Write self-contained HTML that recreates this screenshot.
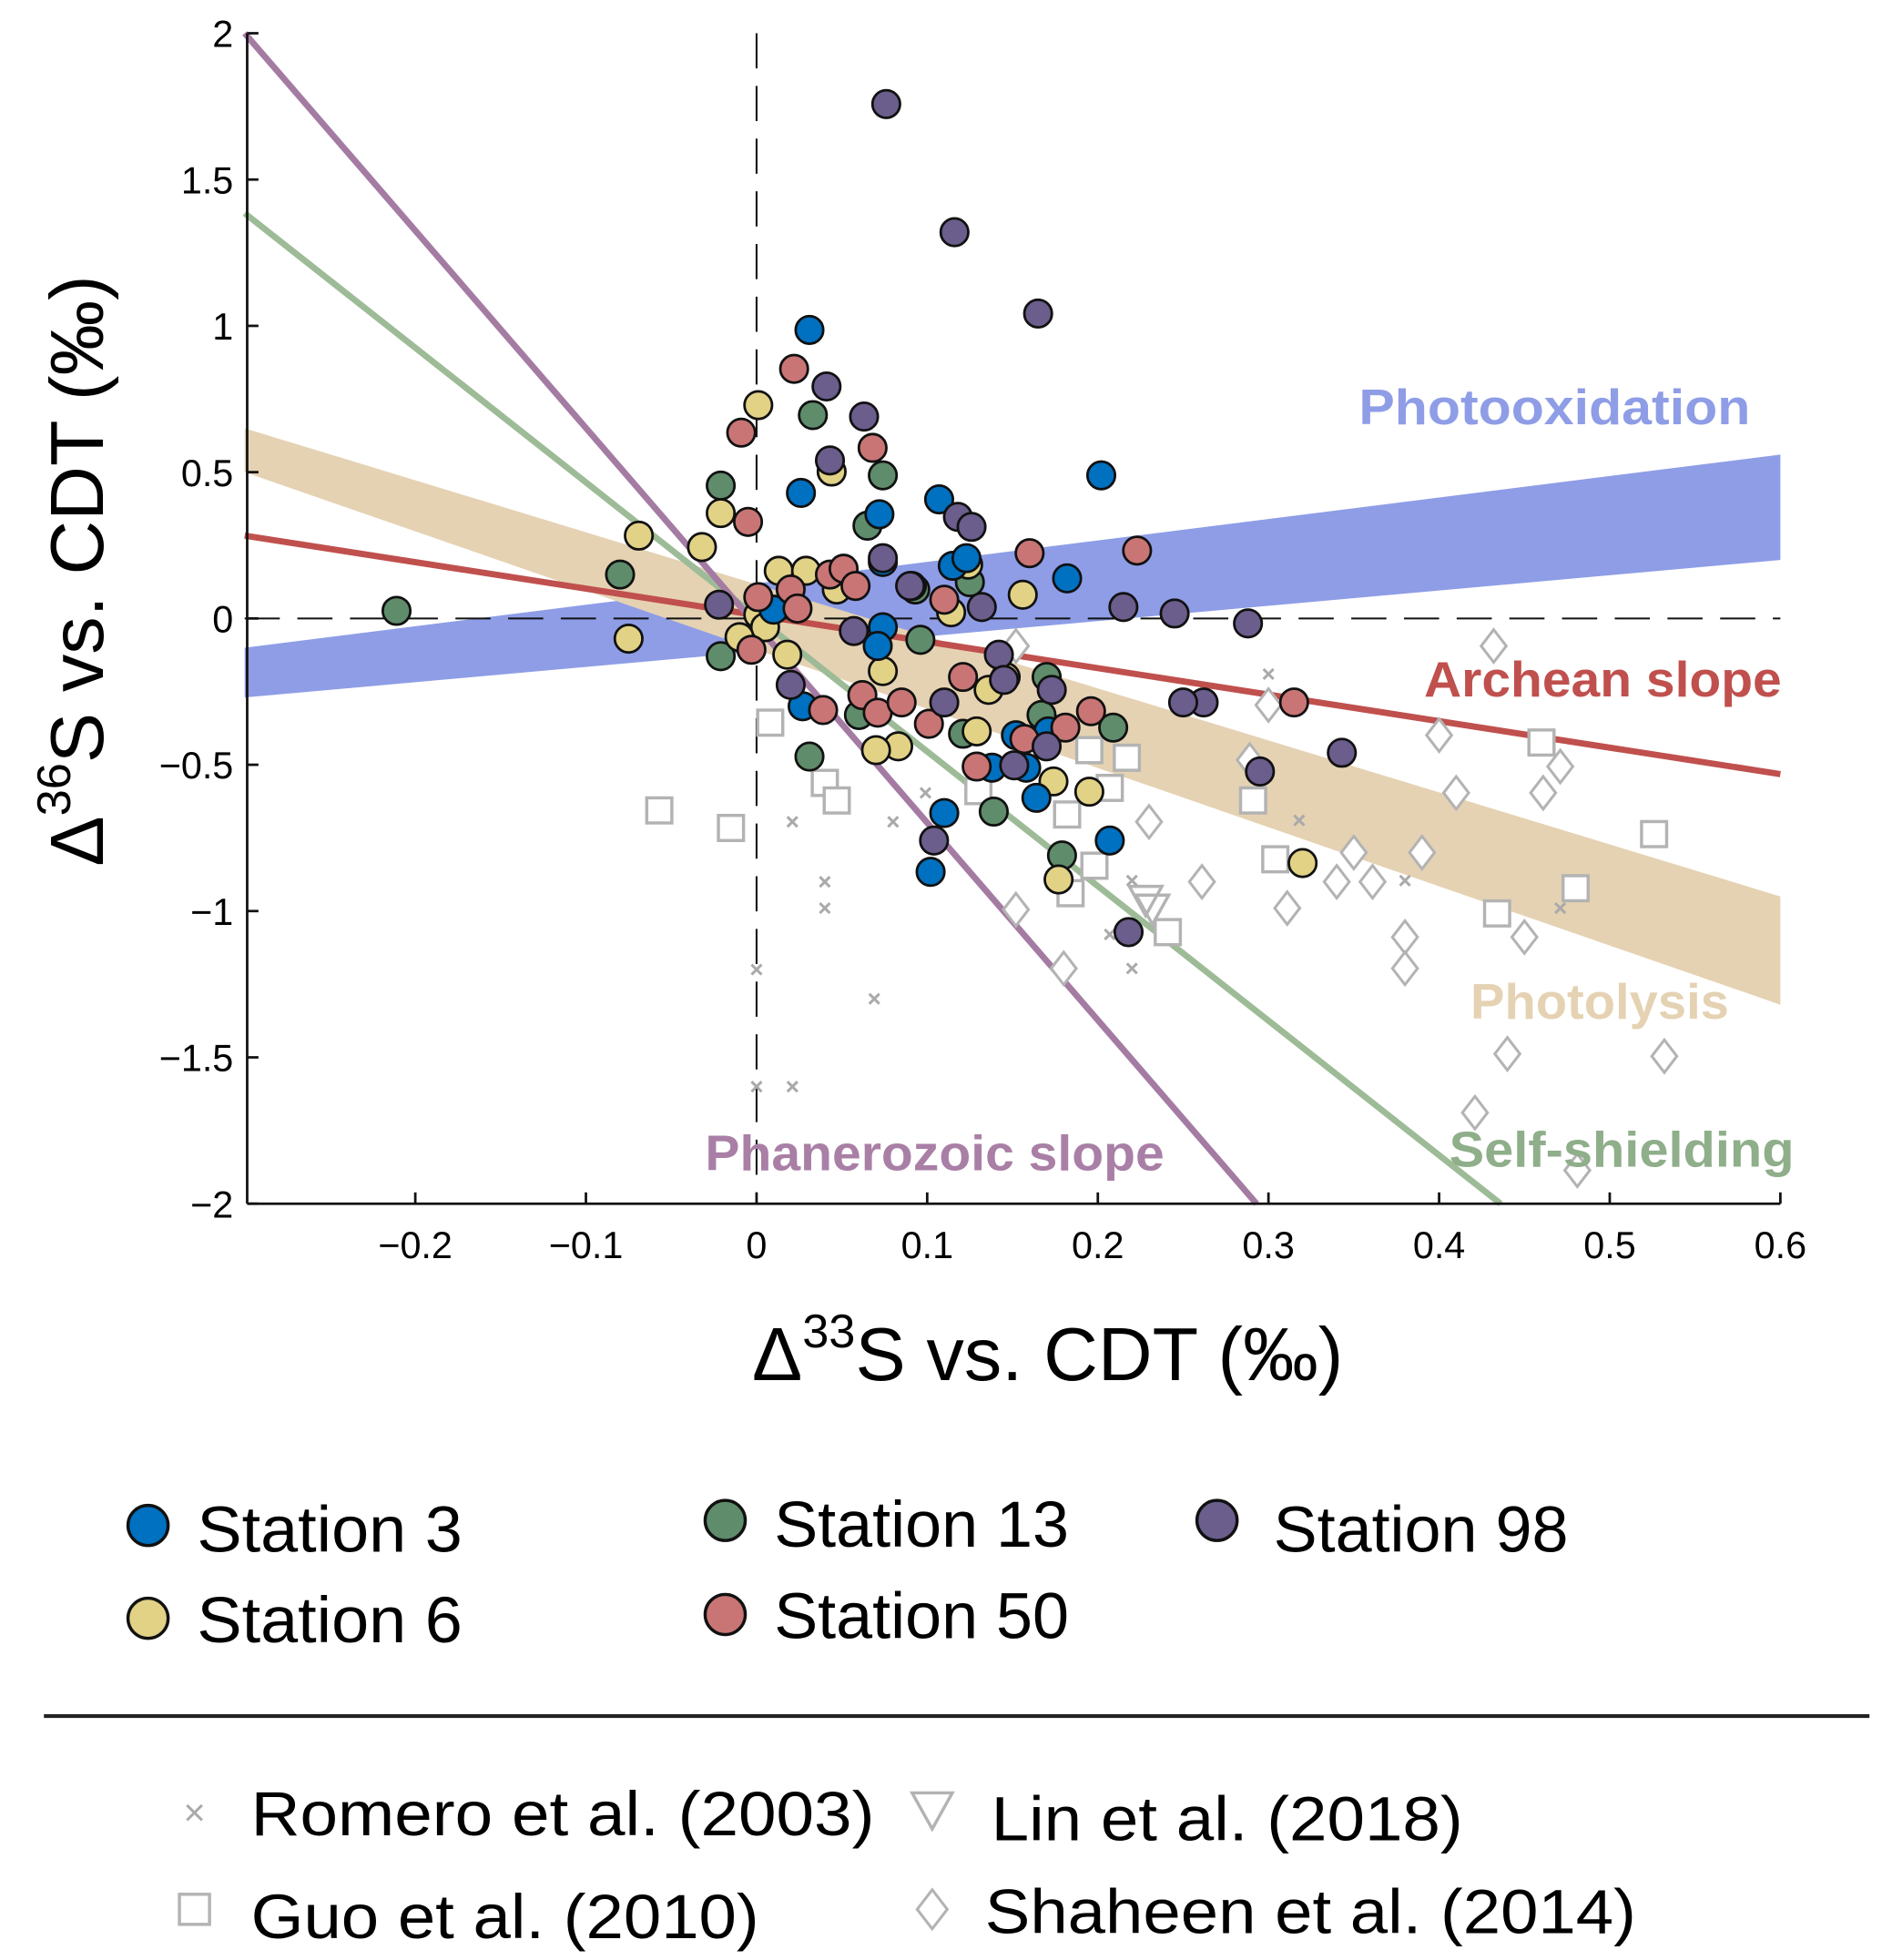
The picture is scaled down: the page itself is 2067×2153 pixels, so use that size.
<!DOCTYPE html>
<html><head><meta charset="utf-8"><style>
html,body{margin:0;padding:0;background:#fff;}
svg{display:block;}
text{font-family:"Liberation Sans",sans-serif;}
</style></head><body>
<svg id="chart" width="2067" height="2153" viewBox="0 0 1500 1562.4" xmlns="http://www.w3.org/2000/svg">
<g id="bands"></g>
<g id="refs"></g>
<g id="pts"></g>
<g id="axes"></g>
<text x="1083" y="338" font-size="40" font-weight="bold" fill="#8e9de6" textLength="312" lengthAdjust="spacingAndGlyphs">Photooxidation</text>
<text x="1135" y="555" font-size="40" font-weight="bold" fill="#c0504d" textLength="285" lengthAdjust="spacingAndGlyphs">Archean slope</text>
<text x="1172" y="812" font-size="40" font-weight="bold" fill="#e5d2b3" textLength="206" lengthAdjust="spacingAndGlyphs">Photolysis</text>
<text x="1155" y="930" font-size="40" font-weight="bold" fill="#8fae8a" textLength="275" lengthAdjust="spacingAndGlyphs">Self-shielding</text>
<text x="562" y="933" font-size="40" font-weight="bold" fill="#a97fa6" textLength="366" lengthAdjust="spacingAndGlyphs">Phanerozoic slope</text>
<text x="835" y="1100" font-size="60" text-anchor="middle">Δ<tspan font-size="38" dy="-26">33</tspan><tspan dy="26">S vs. CDT (‰)</tspan></text>
<text transform="translate(82,455) rotate(-90)" font-size="60" text-anchor="middle">Δ<tspan font-size="38" dy="-26">36</tspan><tspan dy="26">S vs. CDT (‰)</tspan></text>
<g id="legend"></g>
<line x1="35" y1="1368" x2="1490" y2="1368" stroke="#222" stroke-width="3"/>
</svg>
<script>
const xTicks=[-0.2,-0.1,0,0.1,0.2,0.3,0.4,0.5,0.6];
const xTickLabels=["\u22120.2","\u22120.1","0","0.1","0.2","0.3","0.4","0.5","0.6"];
const yTicks=[2,1.5,1,0.5,0,-0.5,-1,-1.5,-2];
const yTickLabels=["2","1.5","1","0.5","0","\u22120.5","\u22121","\u22121.5","\u22122"];
const st3X=[0.031,0.026,0.072,0.107,0.202,0.115,0.123,0.182,0.074,0.074,0.071,0.027,0.152,0.171,0.158,0.164,0.11,0.102,0.207,0.138,0.01];
const st3Y=[0.986,0.429,0.356,0.407,0.489,0.18,0.206,0.137,0.193,-0.03,-0.094,-0.3,-0.399,-0.386,-0.51,-0.613,-0.665,-0.866,-0.759,-0.51,0.03];
const st6X=[0.001,0.044,-0.021,-0.069,-0.032,0.013,0.029,0.047,0.114,0.156,0.124,0.001,0.005,-0.01,-0.075,0.018,0.074,0.136,0.129,0.083,0.07,0.174,0.195,0.177,0.32,0.146];
const st6Y=[0.729,0.502,0.36,0.283,0.244,0.163,0.163,0.099,0.021,0.081,0.184,0.013,-0.03,-0.064,-0.069,-0.124,-0.18,-0.244,-0.386,-0.437,-0.45,-0.557,-0.592,-0.892,-0.836,-0.2];
const st13X=[-0.211,-0.08,-0.021,-0.021,0.033,0.074,0.065,0.093,0.096,0.125,0.06,0.031,0.121,0.139,0.179,0.209,0.167,0.17,0.004];
const st13Y=[0.026,0.15,0.454,-0.129,0.695,0.489,0.317,0.099,-0.073,0.124,-0.33,-0.472,-0.394,-0.66,-0.81,-0.373,-0.33,-0.2,-0.03];
const st50X=[0.022,-0.009,-0.005,0.068,0.001,0.02,0.024,0.043,0.051,0.058,0.091,0.16,0.223,-0.003,0.039,0.062,0.071,0.085,0.101,0.11,0.121,0.129,0.157,0.181,0.196,0.315];
const st50Y=[0.853,0.635,0.33,0.583,0.073,0.099,0.034,0.15,0.17,0.111,0.111,0.223,0.232,-0.107,-0.313,-0.262,-0.322,-0.287,-0.36,0.064,-0.2,-0.506,-0.412,-0.373,-0.317,-0.287];
const st98X=[0.076,0.116,0.165,0.041,0.063,0.043,0.074,0.118,0.126,0.09,0.132,-0.022,0.02,0.057,0.142,0.145,0.173,0.11,0.104,0.151,0.17,0.215,0.245,0.288,0.262,0.25,0.295,0.343,0.218];
const st98Y=[1.758,1.32,1.042,0.793,0.69,0.54,0.206,0.347,0.313,0.111,0.039,0.047,-0.227,-0.043,-0.124,-0.21,-0.244,-0.287,-0.759,-0.502,-0.437,0.039,0.017,-0.017,-0.287,-0.287,-0.523,-0.459,-1.072];
const romX=[0.3,0.021,0.04,0.04,0.08,0.099,0,0.069,0,0.021,0.22,0.22,0.318,0.38,0.471,0.207];
const romY=[-0.19,-0.695,-0.9,-0.99,-0.695,-0.596,-1.2,-1.3,-1.6,-1.6,-0.896,-1.196,-0.69,-0.896,-0.99,-1.08];
const guoX=[-0.057,-0.015,0.008,0.04,0.047,0.195,0.217,0.207,0.198,0.184,0.241,0.291,0.304,0.434,0.46,0.48,0.526,0.13,0.182];
const guoY=[-0.656,-0.716,-0.356,-0.562,-0.622,-0.45,-0.476,-0.579,-0.845,-0.939,-1.072,-0.622,-0.823,-1.008,-0.424,-0.922,-0.737,-0.59,-0.67];
const linX=[0.228,0.232];
const linY=[-0.96,-0.99];
const shaX=[0.152,0.432,0.3,0.289,0.4,0.41,0.461,0.471,0.23,0.261,0.311,0.34,0.35,0.361,0.39,0.38,0.38,0.45,0.44,0.421,0.481,0.532,0.152,0.18];
const shaY=[-0.094,-0.094,-0.296,-0.484,-0.399,-0.596,-0.596,-0.506,-0.695,-0.9,-0.99,-0.9,-0.8,-0.9,-0.8,-1.089,-1.196,-1.089,-1.488,-1.689,-1.886,-1.496,-0.995,-1.196];
const phanLine=[[-0.3,2],[0.293,-2]];
const selfLine=[[-0.3,1.385],[0.436,-2]];
const archLine=[[-0.3,0.283],[0.6,-0.532]];
const photolysisBand=[[-0.3,0.65],[0.6,-0.95],[0.6,-1.32],[-0.3,0.5]];
const photoxBand=[[-0.3,-0.1],[0.6,0.56],[0.6,0.2],[-0.3,-0.27]];

const NS="http://www.w3.org/2000/svg";
const X=v=>603+1360*v, Y=v=>493-233.25*v;
function mk(tag,parent,attrs){const e=document.createElementNS(NS,tag);for(const k in attrs)e.setAttribute(k,attrs[k]);document.getElementById(parent).appendChild(e);return e;}
function pts(a){return a.map(p=>X(p[0])+","+Y(p[1])).join(" ");}

let e;
e=mk('polygon','bands',{points:pts(photoxBand),fill:'#8e9de6'});


e=mk('polygon','bands',{points:pts(photolysisBand),fill:'#e5d2b3'});


e=mk('polyline','bands',{points:pts(archLine),fill:'none',stroke:'#c0504d','stroke-width':5});


e=mk('polyline','bands',{points:pts(selfLine),fill:'none',stroke:'#9ebb98','stroke-width':5});


e=mk('polyline','bands',{points:pts(phanLine),fill:'none',stroke:'#a47ba3','stroke-width':5});


e=mk('line','bands',{x1:X(0),y1:Y(2),x2:X(0),y2:Y(-2),stroke:'#111','stroke-width':1.5,'stroke-dasharray':'28,14'});


e=mk('line','bands',{x1:X(-0.3),y1:Y(0),x2:X(0.6),y2:Y(0),stroke:'#111','stroke-width':1.5,'stroke-dasharray':'28,14'});



const G='#b3b3b3';
function cross(g,x,y,s){mk('path',g,{d:`M${x-s},${y-s}L${x+s},${y+s}M${x-s},${y+s}L${x+s},${y-s}`,stroke:'#aaa','stroke-width':2.2});}
function sq(g,x,y,s){return mk('rect',g,{x:x-s,y:y-s,width:2*s,height:2*s,fill:'#fff',stroke:G,'stroke-width':2.5});}
function tri(g,x,y,s){return mk('polygon',g,{points:`${x-s},${y-s*0.8} ${x+s},${y-s*0.8} ${x},${y+s}`,fill:'none',stroke:G,'stroke-width':2.5});}
function dia(g,x,y,s){return mk('polygon',g,{points:`${x},${y-s*1.3} ${x+s},${y} ${x},${y+s*1.3} ${x-s},${y}`,fill:'#fff',stroke:G,'stroke-width':2.2});}
romX.forEach((v,i)=>{cross('refs',X(v),Y(romY[i]),4);});
guoX.forEach((v,i)=>{e=sq('refs',X(v),Y(guoY[i]),10);

});
shaX.forEach((v,i)=>{e=dia('refs',X(v),Y(shaY[i]),10);

});
linX.forEach((v,i)=>{e=tri('refs',X(v),Y(linY[i]),13);

});

const stations=[[st13X,st13Y,'#5f8c6b','station-13'],[st6X,st6Y,'#e2d286','station-6'],[st3X,st3Y,'#0070c0','station-3'],[st50X,st50Y,'#c97575','station-50'],[st98X,st98Y,'#6b5d8c','station-98']];
stations.forEach(s=>{s[0].forEach((v,i)=>{e=mk('circle','pts',{cx:X(v),cy:Y(s[1][i]),r:11,fill:s[2],stroke:'#111','stroke-width':2});

});});

e=mk('line','axes',{x1:197,y1:Y(2),x2:197,y2:Y(-2),stroke:'#111','stroke-width':2});


e=mk('line','axes',{x1:197,y1:Y(-2),x2:X(0.6),y2:Y(-2),stroke:'#111','stroke-width':2});


xTicks.forEach((v,i)=>{mk('line','axes',{x1:X(v),y1:Y(-2),x2:X(v),y2:Y(-2)-9,stroke:'#111','stroke-width':2});
e=mk('text','axes',{x:X(v),y:1003,'font-size':30,'text-anchor':'middle'});e.textContent=xTickLabels[i];

});
yTicks.forEach((v,i)=>{mk('line','axes',{x1:197,y1:Y(v),x2:206,y2:Y(v),stroke:'#111','stroke-width':2});
e=mk('text','axes',{x:186,y:Y(v)+11,'font-size':30,'text-anchor':'end'});e.textContent=yTickLabels[i];

});

const legS=[[118,1216,157,1237,'#0070c0','Station 3'],[118,1290,157,1309,'#e2d286','Station 6'],[578,1212,617,1233,'#5f8c6b','Station 13'],[578,1287,617,1306,'#c97575','Station 50'],[970,1212,1015,1237,'#6b5d8c','Station 98']];
legS.forEach(l=>{mk('circle','legend',{cx:l[0],cy:l[1],r:16,fill:l[4],stroke:'#111','stroke-width':2.5});
e=mk('text','legend',{x:l[2],y:l[3],'font-size':52,textLength:l[5].length*23.5,lengthAdjust:'spacingAndGlyphs'});e.textContent=l[5];

});
cross('legend',155,1445,6);
sq('legend',155,1522,12);
tri('legend',743,1442,16);
dia('legend',743,1522,12);
const legR=[[200,1463,'Romero et al. (2003)',497],[200,1545,'Guo et al. (2010)',405],[790,1467,'Lin et al. (2018)',376],[785,1541,'Shaheen et al. (2014)',519]];
legR.forEach(l=>{e=mk('text','legend',{x:l[0],y:l[1],'font-size':50,textLength:l[3],lengthAdjust:'spacingAndGlyphs'});e.textContent=l[2];

});
</script>
</body></html>
